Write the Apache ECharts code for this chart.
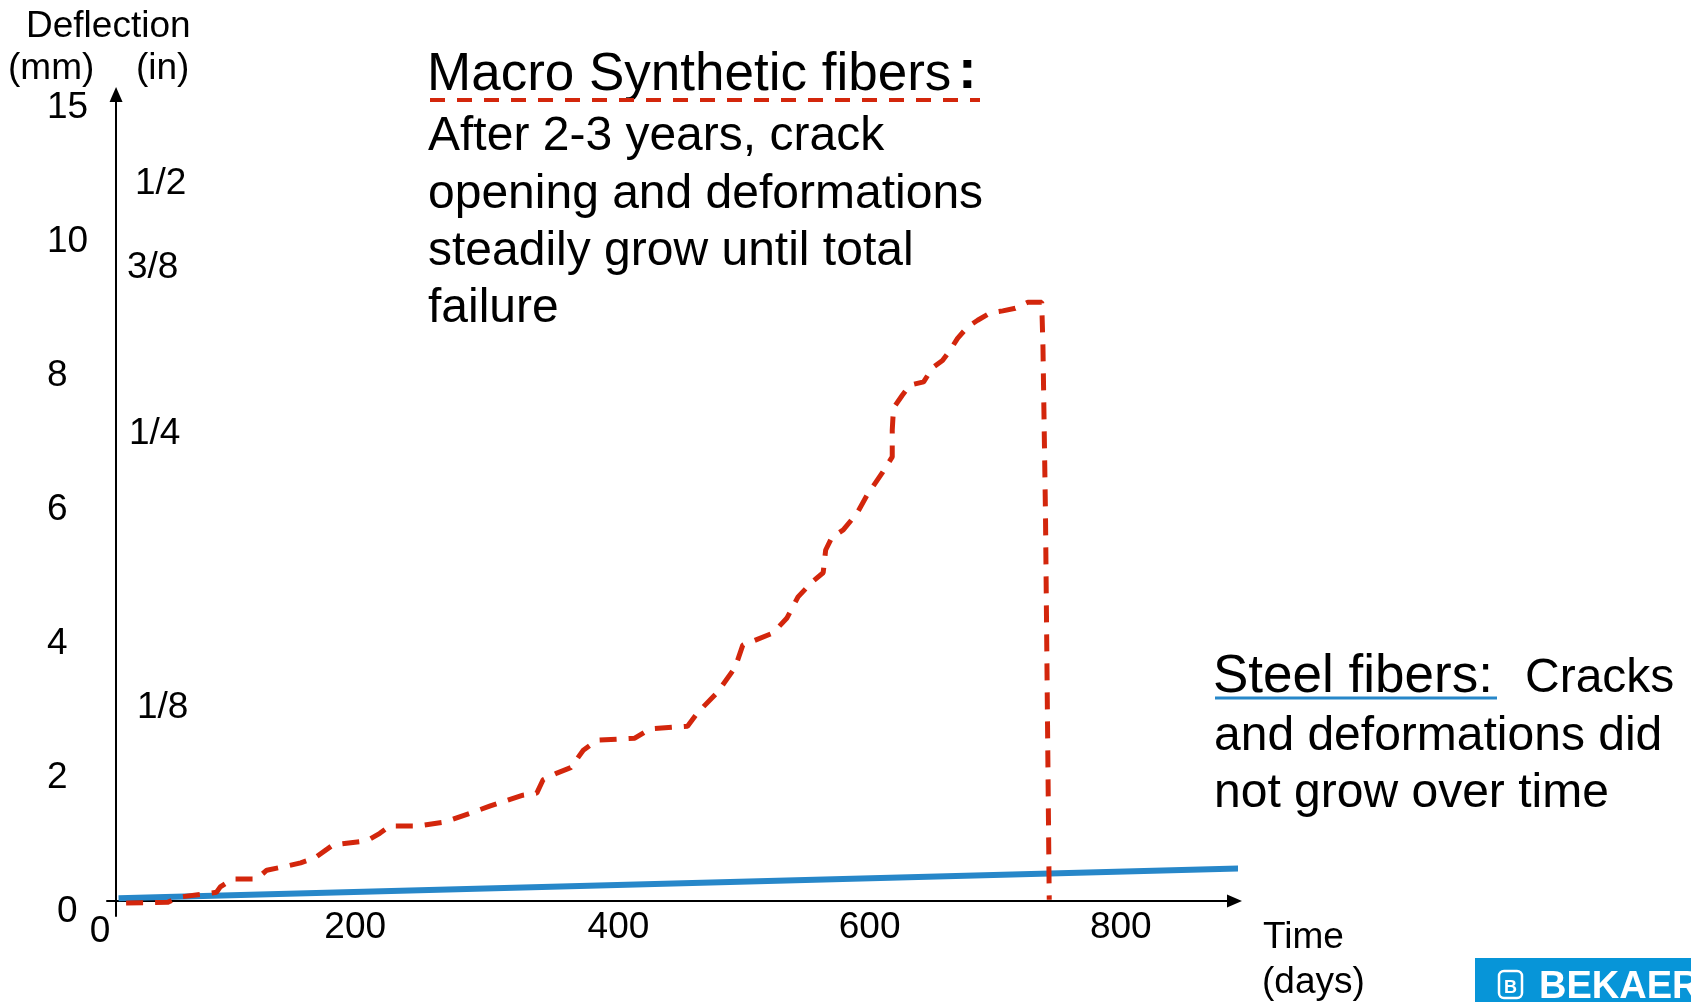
<!DOCTYPE html>
<html>
<head>
<meta charset="utf-8">
<title>Deflection over time</title>
<script src="https://cdn.jsdelivr.net/npm/echarts@6/dist/echarts.min.js"></script>
<style>
    html, body { margin: 0; padding: 0; background: #fff; }
    #main { width: 1691px; height: 1002px; }
</style>
</head>
<body>
<div id="main"></div>
<script>
// macro synthetic fibre beam: time (days) / deflection (mm)
var synthDays = [8, 41, 51, 80, 83, 93, 112, 120, 136, 147,
    158, 173, 200, 210, 218, 240, 262, 282, 298, 324,
    335, 340, 351, 362, 372, 383, 413, 425, 455, 463,
    479, 493, 499, 523, 534, 543, 554, 563, 565, 570,
    579, 590, 598, 610, 618, 618, 619, 626, 632, 643,
    650, 658, 664, 670, 678, 686, 696, 706, 716, 726,
    737, 738, 740, 743];
var synthMm = [-0.03, -0.02, 0.06, 0.13, 0.21, 0.33, 0.33, 0.46, 0.52, 0.57,
    0.64, 0.84, 0.90, 1.01, 1.12, 1.12, 1.18, 1.31, 1.42, 1.58,
    1.61, 1.81, 1.91, 1.99, 2.25, 2.40, 2.43, 2.57, 2.61, 2.81,
    3.12, 3.49, 3.82, 4.00, 4.22, 4.54, 4.76, 4.90, 5.24, 5.43,
    5.54, 5.79, 6.06, 6.39, 6.63, 7.03, 7.36, 7.55, 7.70, 7.75,
    7.96, 8.07, 8.22, 8.40, 8.57, 8.67, 8.78, 8.81, 8.85, 8.94,
    8.94, 8.27, 5.79, 0.02];

// steel fibre beam
var steelDays = [2, 901];
var steelMm = [0.04, 0.49];

// tick labels, where the slide puts them
var dayTicks = [0, 200, 400, 600, 800];
var mmTickPos = [0, 2, 4, 6, 8, 10, 12];
var mmTickText = ['0', '2', '4', '6', '8', '10', '15'];
var inTickPos = [2.89, 6.98, 9.45, 10.7];
var inTickText = ['1/8', '1/4', '3/8', '1/2'];

var FONT = '"Liberation Sans", Arial, Helvetica, sans-serif';
var RED = '#d3260c';
var BLUE = '#2787c9';

function zip(a, b) {
    return a.map(function (v, i) { return [v, b[i]]; });
}

function lookup(pos, text) {
    return function (v) {
        var best = 0;
        for (var i = 1; i < pos.length; i++) {
            if (Math.abs(pos[i] - v) < Math.abs(pos[best] - v)) best = i;
        }
        return text[best];
    };
}

// slide text placed by its baseline
function txt(x, base, str, size, extra) {
    var style = {
        text: str, x: x, y: base - 0.27 * size,
        fontSize: size, fontFamily: FONT, fill: '#000',
        align: 'left', textAlign: 'left',
        verticalAlign: 'middle', textVerticalAlign: 'middle'
    };
    if (extra) for (var k in extra) style[k] = extra[k];
    return { type: 'text', silent: true, style: style };
}

function rule(x1, x2, y, color, width, dash) {
    return {
        type: 'line', silent: true,
        shape: { x1: x1, y1: y, x2: x2, y2: y },
        style: { stroke: color, lineWidth: width, lineDash: dash || null }
    };
}

var mmLabel = lookup(mmTickPos, mmTickText);
var inLabel = lookup(inTickPos, inTickText);

// the hand-placed inch labels are not quite lined up on the slide
var inNudge = { '1/8': 'a', '1/4': 'b', '3/8': 'c', '1/2': 'd' };
function inRich(pad) {
    return { fontSize: 37, fontFamily: FONT, color: '#000', padding: [0, 0, 0, pad] };
}

var chart = echarts.init(document.getElementById('main'));
chart.setOption({
    animation: false,
    grid: { left: 107, right: 456.5, top: 94.5, bottom: 86 },
    xAxis: {
        type: 'value',
        min: -7.2,
        max: 890.5,
        axisLine: {
            onZero: true,
            symbol: ['none', 'triangle'],
            symbolSize: [13, 15],
            lineStyle: { color: '#000', width: 2 }
        },
        axisTick: { show: false },
        splitLine: { show: false },
        axisLabel: {
            customValues: dayTicks,
            margin: 12,
            verticalAlign: 'middle',
            fontSize: 37,
            fontFamily: FONT,
            color: '#000',
            formatter: function (v) {
                if (v === 0) return '{z|0}';
                if (v === 200) return '{n|200}';
                return String(v);
            },
            rich: {
                z: { fontSize: 37, fontFamily: FONT, color: '#000', padding: [8, 32, 0, 0] },
                n: { fontSize: 37, fontFamily: FONT, color: '#000', padding: [0, 24, 0, 0] }
            }
        }
    },
    yAxis: [
        {
            type: 'value',
            min: -0.224,
            max: 12.04,
            axisLine: {
                onZero: true,
                symbol: ['none', 'triangle'],
                symbolSize: [13, 15],
                lineStyle: { color: '#000', width: 2 }
            },
            axisTick: { show: false },
            splitLine: { show: false },
            axisLabel: {
                customValues: mmTickPos,
                margin: 60,
                align: 'left',
                padding: [21, 0, 0, 0],
                fontSize: 37,
                fontFamily: FONT,
                color: '#000',
                formatter: function (v) {
                    var t = mmLabel(v);
                    return t === '0' ? '{z|0}' : t;
                },
                rich: {
                    z: { fontSize: 37, fontFamily: FONT, color: '#000', padding: [0, 0, 0, 10] }
                }
            }
        },
        {
            type: 'value',
            position: 'left',
            min: -0.224,
            max: 12.04,
            axisLine: { show: false, onZero: false },
            axisTick: { show: false },
            splitLine: { show: false },
            axisLabel: {
                inside: true,
                customValues: inTickPos,
                margin: 20,
                align: 'left',
                fontSize: 37,
                fontFamily: FONT,
                color: '#000',
                formatter: function (v) {
                    var t = inLabel(v);
                    return '{' + inNudge[t] + '|' + t + '}';
                },
                rich: { a: inRich(10), b: inRich(2), c: inRich(0), d: inRich(8) }
            }
        }
    ],
    series: [
        {
            name: 'Steel fibers',
            type: 'line',
            data: zip(steelDays, steelMm),
            showSymbol: false,
            clip: false,
            silent: true,
            lineStyle: { color: BLUE, width: 6 }
        },
        {
            name: 'Macro Synthetic fibers',
            type: 'line',
            data: zip(synthDays, synthMm),
            showSymbol: false,
            silent: true,
            lineStyle: { color: RED, width: 5, type: [17, 12] }
        }
    ],
    graphic: [
        // axis titles
        txt(26, 37, 'Deflection', 37),
        txt(8, 79, '(mm)', 37),
        txt(136, 79, '(in)', 37),
        txt(1263, 948, 'Time', 37),
        txt(1262, 993, '(days)', 37),

        // macro synthetic note
        txt(427, 90, 'Macro Synthetic fibers', 53),
        txt(958, 88, ':', 56, { fontWeight: 'bold' }),
        rule(430, 980, 100, RED, 4, [15, 12]),
        txt(428, 150, 'After 2-3 years, crack', 48),
        txt(428, 208, 'opening and deformations', 48),
        txt(428, 265, 'steadily grow until total', 48),
        txt(428, 322, 'failure', 48),

        // steel note
        txt(1213, 692, 'Steel fibers:', 53),
        rule(1215, 1497, 698, BLUE, 3),
        txt(1525, 692, 'Cracks', 48),
        txt(1214, 750, 'and deformations did', 48),
        txt(1214, 807, 'not grow over time', 48),

        // logo
        {
            type: 'rect', silent: true,
            shape: { x: 1475, y: 958, width: 216, height: 44 },
            style: { fill: '#0795d8' }
        },
        {
            type: 'rect', silent: true,
            shape: { x: 1499, y: 971, width: 23, height: 27, r: 5 },
            style: { fill: 'none', stroke: '#fff', lineWidth: 2.5 }
        },
        txt(1504, 993, 'B', 18, { fontWeight: 'bold', fill: '#fff' }),
        txt(1539, 998, 'BEKAERT', 38, { fontWeight: 'bold', fill: '#fff' })
    ]
});
</script>
</body>
</html>
